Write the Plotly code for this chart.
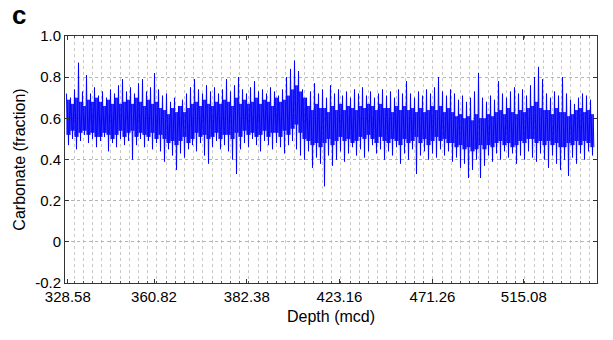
import plotly.graph_objects as go

# Spike tops per ~4px column (fraction)
upper = [0.72, 0.70, 0.74, 0.87, 0.73, 0.81, 0.72, 0.75, 0.71, 0.73, 0.70, 0.74, 0.72, 0.76, 0.79, 0.73,
         0.75, 0.72, 0.77, 0.79, 0.73, 0.75, 0.82, 0.74, 0.71, 0.72, 0.68, 0.70, 0.66, 0.69, 0.72, 0.75,
         0.79, 0.74, 0.72, 0.76, 0.73, 0.75, 0.72, 0.74, 0.79, 0.73, 0.76, 0.80, 0.74, 0.72, 0.75, 0.78,
         0.73, 0.74, 0.72, 0.75, 0.73, 0.71, 0.74, 0.80, 0.84, 0.88, 0.83, 0.74, 0.70, 0.73, 0.77, 0.72,
         0.74, 0.70, 0.76, 0.72, 0.74, 0.71, 0.73, 0.70, 0.74, 0.72, 0.75, 0.71, 0.73, 0.70, 0.72, 0.74,
         0.71, 0.73, 0.70, 0.74, 0.72, 0.78, 0.72, 0.70, 0.73, 0.71, 0.74, 0.72, 0.75, 0.80, 0.73, 0.71,
         0.74, 0.72, 0.69, 0.71, 0.68, 0.70, 0.73, 0.82, 0.70, 0.68, 0.71, 0.69, 0.78, 0.72, 0.70, 0.73,
         0.75, 0.72, 0.74, 0.71, 0.76, 0.80, 0.85, 0.79, 0.72, 0.70, 0.73, 0.71, 0.80, 0.72, 0.69, 0.67,
         0.70, 0.72, 0.71, 0.69]

# Spike bottoms per ~4px column (fraction)
lower = [0.47, 0.50, 0.45, 0.49, 0.52, 0.48, 0.50, 0.46, 0.49, 0.51, 0.44, 0.48, 0.46, 0.50, 0.47, 0.49,
         0.40, 0.47, 0.50, 0.46, 0.49, 0.45, 0.48, 0.44, 0.39, 0.45, 0.42, 0.35, 0.43, 0.41, 0.45, 0.47,
         0.44, 0.48, 0.42, 0.38, 0.46, 0.49, 0.45, 0.47, 0.44, 0.40, 0.33, 0.45, 0.48, 0.46, 0.50, 0.47,
         0.44, 0.49, 0.47, 0.45, 0.48, 0.46, 0.43, 0.47, 0.49, 0.45, 0.42, 0.40, 0.44, 0.36, 0.41, 0.38,
         0.27, 0.42, 0.37, 0.40, 0.44, 0.39, 0.43, 0.46, 0.42, 0.45, 0.41, 0.44, 0.47, 0.43, 0.45, 0.40,
         0.44, 0.42, 0.46, 0.38, 0.43, 0.40, 0.45, 0.33, 0.42, 0.44, 0.40, 0.43, 0.41, 0.45, 0.42, 0.44,
         0.39, 0.41, 0.36, 0.38, 0.31, 0.35, 0.40, 0.31, 0.37, 0.42, 0.39, 0.43, 0.40, 0.44, 0.41, 0.43,
         0.38, 0.42, 0.40, 0.44, 0.41, 0.39, 0.43, 0.40, 0.36, 0.42, 0.38, 0.35, 0.40, 0.32, 0.41, 0.38,
         0.43, 0.40, 0.44, 0.42]

# Upper edge of the dense core band per column
mid_upper = [0.69, 0.67, 0.70, 0.68, 0.66, 0.69, 0.68, 0.70, 0.68, 0.66, 0.69, 0.67, 0.70, 0.67, 0.68, 0.69,
             0.67, 0.70, 0.68, 0.66, 0.69, 0.67, 0.68, 0.65, 0.64, 0.62, 0.65, 0.63, 0.66, 0.63, 0.65, 0.67,
             0.68, 0.66, 0.69, 0.67, 0.66, 0.68, 0.67, 0.69, 0.68, 0.66, 0.70, 0.67, 0.69, 0.67, 0.68, 0.70,
             0.67, 0.69, 0.68, 0.66, 0.70, 0.68, 0.69, 0.71, 0.74, 0.76, 0.73, 0.70, 0.66, 0.64, 0.67, 0.65,
             0.65, 0.63, 0.66, 0.64, 0.67, 0.64, 0.66, 0.65, 0.64, 0.66, 0.65, 0.67, 0.66, 0.64, 0.67, 0.65,
             0.65, 0.63, 0.66, 0.64, 0.66, 0.64, 0.65, 0.63, 0.65, 0.63, 0.64, 0.66, 0.64, 0.66, 0.63, 0.65,
             0.63, 0.61, 0.62, 0.60, 0.61, 0.59, 0.62, 0.60, 0.60, 0.62, 0.61, 0.63, 0.64, 0.62, 0.65, 0.63,
             0.62, 0.64, 0.63, 0.65, 0.66, 0.68, 0.65, 0.64, 0.64, 0.62, 0.65, 0.63, 0.63, 0.61, 0.62, 0.64,
             0.65, 0.63, 0.64, 0.62]

# Lower edge of the dense core band per column
mid_lower = [0.52, 0.54, 0.51, 0.53, 0.54, 0.52, 0.53, 0.51, 0.51, 0.53, 0.52, 0.50, 0.52, 0.54, 0.51, 0.53,
             0.54, 0.51, 0.53, 0.52, 0.51, 0.53, 0.50, 0.52, 0.50, 0.48, 0.49, 0.47, 0.49, 0.51, 0.48, 0.50,
             0.53, 0.51, 0.52, 0.50, 0.51, 0.53, 0.50, 0.52, 0.52, 0.50, 0.53, 0.51, 0.54, 0.52, 0.53, 0.51,
             0.52, 0.54, 0.51, 0.53, 0.53, 0.51, 0.54, 0.52, 0.55, 0.57, 0.53, 0.50, 0.49, 0.47, 0.48, 0.46,
             0.48, 0.50, 0.47, 0.49, 0.51, 0.49, 0.50, 0.48, 0.49, 0.51, 0.50, 0.52, 0.50, 0.48, 0.51, 0.49,
             0.48, 0.50, 0.49, 0.47, 0.50, 0.48, 0.49, 0.51, 0.48, 0.50, 0.47, 0.49, 0.51, 0.49, 0.50, 0.48,
             0.48, 0.46, 0.47, 0.45, 0.46, 0.44, 0.45, 0.47, 0.45, 0.47, 0.46, 0.48, 0.49, 0.47, 0.48, 0.46,
             0.47, 0.49, 0.48, 0.50, 0.50, 0.48, 0.49, 0.47, 0.49, 0.47, 0.48, 0.46, 0.46, 0.48, 0.47, 0.49,
             0.47, 0.49, 0.48, 0.46]

# Depth tick labels (at sample index positions)
tick_index = [1.3, 87.5, 180.3, 273, 366, 457.3]
tick_labels = ["328.58", "360.82", "382.38", "423.16", "471.26", "515.08"]

series = []
for k in range(len(upper)):
    series += [upper[k], mid_lower[k], mid_upper[k], lower[k], mid_upper[k], mid_lower[k]]
# sample positions: 6 samples per 4-index column
sample = [i * 4.0 / 6.0 for i in range(len(series))]

fig = go.Figure()
fig.add_trace(go.Scatter(x=sample, y=series, mode="lines",
                         line=dict(color="#0000ff", width=1), showlegend=False,
                         hoverinfo="skip"))

font = dict(family="Liberation Sans, Arial, Helvetica, sans-serif", color="black")

fig.update_layout(
    width=613, height=340,
    margin=dict(l=65, r=16, t=36, b=57, autoexpand=False),
    paper_bgcolor="white", plot_bgcolor="white",
    font=dict(**font, size=15),
    xaxis=dict(
        range=[-1.5, 530.5], tickmode="array", tickvals=tick_index, ticktext=tick_labels,
        automargin=False,
        showgrid=False, zeroline=False, showline=True, linecolor="#333333", linewidth=1,
        mirror="ticks", ticks="inside", ticklen=4, tickcolor="#333333",
        tickfont=dict(size=15),
        title=dict(text="Depth (mcd)", font=dict(size=16), standoff=6),
        minor=dict(tickmode="linear", tick0=7.5, dtick=9.2, showgrid=True,
                   gridcolor="#c8c8c8", griddash="dot", gridwidth=1,
                   ticks="inside", ticklen=2, tickcolor="#555555"),
    ),
    yaxis=dict(
        range=[-0.2, 1.0], tickmode="array",
        tickvals=[-0.2, 0, 0.2, 0.4, 0.6, 0.8, 1.0],
        ticktext=["-0.2", "0", "0.2", "0.4", "0.6", "0.8", "1.0"],
        automargin=False,
        showgrid=True, gridcolor="#b4b4b4", griddash="dot", gridwidth=1,
        zeroline=False, showline=True, linecolor="#333333", linewidth=1,
        mirror="ticks", ticks="inside", ticklen=4, tickcolor="#333333",
        tickfont=dict(size=15),
        title=dict(text="Carbonate (fraction)", font=dict(size=16), standoff=5),
    ),
    annotations=[dict(text="<b>c</b>", xref="paper", yref="paper",
                      x=-0.103, y=1.085, xanchor="left", yanchor="middle",
                      showarrow=False, font=dict(size=26, family=font["family"], color="black"))],
)

fig.write_html("out.html", config={"displayModeBar": False},
               post_script="document.body.style.margin='0';")
